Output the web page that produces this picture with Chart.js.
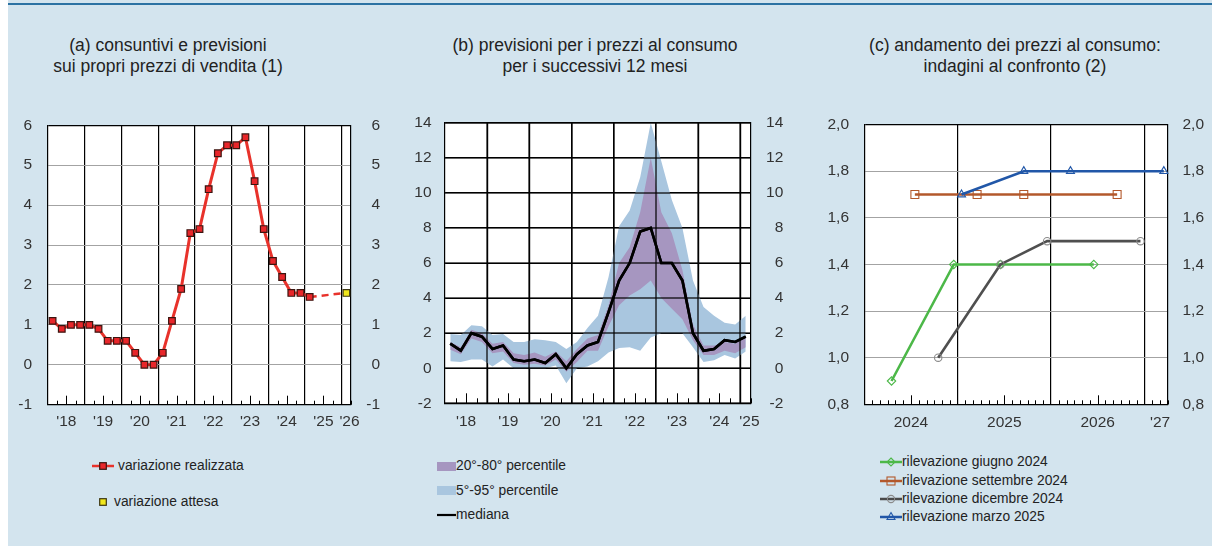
<!DOCTYPE html>
<html>
<head>
<meta charset="utf-8">
<script src="https://cdn.jsdelivr.net/npm/chart.js@4.4.1/dist/chart.umd.min.js"></script>
<style>
  html, body { margin: 0; padding: 0; }
  body { width: 1212px; height: 546px; background: #fff; overflow: hidden; position: relative;
         font-family: "Liberation Sans", Arial, Helvetica, sans-serif; color: #222; }
  #bg { position: absolute; left: 8px; top: 0; width: 1204px; height: 546px; background: #d3e4ee; }
  #topline { position: absolute; left: 8px; top: 3px; width: 1204px; height: 2px; background: #2b72a3; }
  .title { position: absolute; top: 35px; width: 400px; text-align: center; font-size: 17.5px; line-height: 21px; color: #222; }
  .cw { position: absolute; top: 100px; width: 404px; height: 330px; }
  .cw canvas { display: block; }
  .leg { position: absolute; font-size: 13.8px; line-height: 18px; height: 18px; white-space: nowrap; color: #222; }
  .ico { position: absolute; }
</style>
</head>
<body>
<div id="bg"></div>
<div id="topline"></div>

<div class="title" style="left:-32px;">(a) consuntivi e previsioni<br>sui propri prezzi di vendita (1)</div>
<div class="title" style="left:395px;">(b) previsioni per i prezzi al consumo<br>per i successivi 12 mesi</div>
<div class="title" style="left:815px;">(c) andamento dei prezzi al consumo:<br>indagini al confronto (2)</div>

<div class="cw" style="left:0px;"><canvas id="ca" width="404" height="330"></canvas></div>
<div class="cw" style="left:404px;"><canvas id="cb" width="404" height="330"></canvas></div>
<div class="cw" style="left:808px;"><canvas id="cc" width="404" height="330"></canvas></div>

<!-- legend (a) -->
<svg class="ico" style="left:92px;top:459px;" width="22" height="14">
  <line x1="0" y1="7" x2="22" y2="7" stroke="#e8322b" stroke-width="2.5"/>
  <rect x="7.7" y="3.7" width="6.6" height="6.6" fill="#e8262a" stroke="#3b1510" stroke-width="1.2"/>
</svg>
<div class="leg" style="left:118px;top:457px;">variazione realizzata</div>
<svg class="ico" style="left:96px;top:495px;" width="14" height="14">
  <rect x="3.7" y="3.7" width="6.6" height="6.6" fill="#f0e61c" stroke="#3b3410" stroke-width="1.2"/>
</svg>
<div class="leg" style="left:114px;top:493px;">variazione attesa</div>

<!-- legend (b) -->
<svg class="ico" style="left:437px;top:462px;" width="19" height="9"><rect x="0" y="0" width="19" height="9" fill="#a696c0"/></svg>
<div class="leg" style="left:456px;top:457px;">20°-80° percentile</div>
<svg class="ico" style="left:437px;top:486px;" width="19" height="9"><rect x="0" y="0" width="19" height="9" fill="#a9c6df"/></svg>
<div class="leg" style="left:456px;top:482px;">5°-95° percentile</div>
<svg class="ico" style="left:437px;top:508px;" width="19" height="14"><line x1="0" y1="7" x2="19" y2="7" stroke="#000" stroke-width="2.2"/></svg>
<div class="leg" style="left:456px;top:506px;">mediana</div>

<!-- legend (c) -->
<svg class="ico" style="left:880px;top:455px;" width="22" height="14">
  <line x1="0" y1="7" x2="22" y2="7" stroke="#4cb848" stroke-width="2.5"/>
  <polygon points="11,3 15,7 11,11 7,7" fill="none" stroke="#4cb848" stroke-width="1.1"/>
</svg>
<div class="leg" style="left:902px;top:453px;">rilevazione giugno 2024</div>
<svg class="ico" style="left:880px;top:474px;" width="22" height="14">
  <line x1="0" y1="7" x2="22" y2="7" stroke="#b3582b" stroke-width="2.5"/>
  <rect x="7" y="3" width="8" height="8" fill="none" stroke="#b3582b" stroke-width="1.1"/>
</svg>
<div class="leg" style="left:902px;top:472px;">rilevazione settembre 2024</div>
<svg class="ico" style="left:880px;top:492px;" width="22" height="14">
  <line x1="0" y1="7" x2="22" y2="7" stroke="#4a4a4a" stroke-width="2.5"/>
  <circle cx="11" cy="7" r="3.6" fill="none" stroke="#8a8a8a" stroke-width="1.1"/>
</svg>
<div class="leg" style="left:902px;top:490px;">rilevazione dicembre 2024</div>
<svg class="ico" style="left:880px;top:510px;" width="22" height="14">
  <line x1="0" y1="7" x2="22" y2="7" stroke="#2157a8" stroke-width="2.5"/>
  <polygon points="11,2.5 15,9.5 7,9.5" fill="none" stroke="#2157a8" stroke-width="1.1"/>
</svg>
<div class="leg" style="left:902px;top:508px;">rilevazione marzo 2025</div>

<script>
// ================= DATA =================
// (a) firms' own selling prices: realized and expected change (quarterly)
const quartersA = ['2018T1','2018T2','2018T3','2018T4','2019T1','2019T2','2019T3','2019T4',
                   '2020T1','2020T2','2020T3','2020T4','2021T1','2021T2','2021T3','2021T4',
                   '2022T1','2022T2','2022T3','2022T4','2023T1','2023T2','2023T3','2023T4',
                   '2024T1','2024T2','2024T3','2024T4','2025T1'];
const realizedA = [1.1, 0.9, 1.0, 1.0, 1.0, 0.9, 0.6, 0.6,
                   0.6, 0.3, 0.0, 0.0, 0.3, 1.1, 1.9, 3.3,
                   3.4, 4.4, 5.3, 5.5, 5.5, 5.7, 4.6, 3.4,
                   2.6, 2.2, 1.8, 1.8, 1.7];
const expectedQuartersA = ['2025T1', '2026T1'];
const expectedValuesA = [1.7, 1.8];
const yearsA = [2018, 2019, 2020, 2021, 2022, 2023, 2024, 2025, 2026];
const yearLabelsA = ["'18", "'19", "'20", "'21", "'22", "'23", "'24", "'25", "'26"];

// (b) consumer price expectations for the next 12 months (quarterly)
const quartersB = ['2018T1','2018T2','2018T3','2018T4','2019T1','2019T2','2019T3','2019T4',
                   '2020T1','2020T2','2020T3','2020T4','2021T1','2021T2','2021T3','2021T4',
                   '2022T1','2022T2','2022T3','2022T4','2023T1','2023T2','2023T3','2023T4',
                   '2024T1','2024T2','2024T3','2024T4','2025T1'];
const p5B   = [0.4, 0.35, 0.5, 0.5, 0.1, 0.5, 0.0, 0.0, 0.0, 0.0, 0.15, -0.85, 0.0, 0.1, 0.4,
               0.9, 1.15, 1.2, 1.0, 1.75, 2.0, 2.0, 2.0, 1.2, 0.35, 0.45, 0.75, 0.55, 0.95];
const p20B  = [1.05, 0.8, 1.7, 1.5, 0.85, 0.95, 0.3, 0.2, 0.25, 0.15, 0.5, -0.2, 0.35, 1.0, 1.0,
               2.4, 3.6, 4.15, 4.5, 5.0, 4.0, 3.4, 2.8, 1.6, 0.75, 0.75, 1.0, 0.85, 1.2];
const medianB = [1.4, 1.0, 2.0, 1.8, 1.1, 1.3, 0.5, 0.4, 0.5, 0.3, 0.8, 0.0, 0.8, 1.3, 1.5,
               3.2, 5.0, 6.0, 7.8, 8.0, 6.0, 6.0, 5.0, 2.0, 1.0, 1.1, 1.6, 1.5, 1.8];
const p80B  = [1.5, 1.2, 2.2, 2.0, 1.4, 1.5, 0.85, 0.75, 0.9, 0.65, 0.95, 0.4, 1.1, 1.7, 1.9,
               3.6, 6.0, 6.9, 8.9, 12.0, 8.9, 7.7, 5.6, 2.5, 1.3, 1.3, 1.5, 1.4, 1.8];
const p95B  = [1.95, 1.9, 2.45, 2.4, 1.9, 1.95, 1.5, 1.5, 1.65, 1.6, 1.5, 1.1, 1.5, 2.3, 3.0,
               5.2, 8.1, 9.0, 10.9, 14.0, 11.8, 9.6, 8.0, 5.0, 3.5, 3.0, 2.6, 2.5, 3.0];
const yearsB = [2018, 2019, 2020, 2021, 2022, 2023, 2024, 2025];
const yearLabelsB = ["'18", "'19", "'20", "'21", "'22", "'23", "'24", "'25"];

// (c) consumer prices: surveys compared (monthly reference dates)
const monthsJun24 = ['2024-04', '2024-12', '2025-06', '2026-06'];
const valuesJun24 = [0.9, 1.4, 1.4, 1.4];
const monthsSep24 = ['2024-07', '2025-03', '2025-09', '2026-09'];
const valuesSep24 = [1.7, 1.7, 1.7, 1.7];
const monthsDec24 = ['2024-10', '2025-06', '2025-12', '2026-12'];
const valuesDec24 = [1.0, 1.4, 1.5, 1.5];
const monthsMar25 = ['2025-01', '2025-09', '2026-03', '2027-03'];
const valuesMar25 = [1.7, 1.8, 1.8, 1.8];
const seriesNamesC = ['rilevazione giugno 2024', 'rilevazione settembre 2024',
                      'rilevazione dicembre 2024', 'rilevazione marzo 2025'];
const yearsC = [2024, 2025, 2026, 2027];
const yearLabelsC = ['2024', '2025', '2026', "'27"];

// ================= HELPERS =================
const qx = s => { const y = +s.slice(0, 4), q = +s.slice(5); return y + (q - 0.5) / 4; };
const mx = s => { const y = +s.slice(0, 4), m = +s.slice(5); return y + (m - 0.5) / 12; };
const pts = (cats, vals, f) => cats.map((c, i) => ({ x: f(c), y: vals[i] }));

Chart.defaults.font.family = '"Liberation Sans", Arial, Helvetica, sans-serif';
Chart.defaults.color = '#333';
Chart.defaults.animation = false;

const areaBg = {
  id: 'areaBg',
  beforeDraw(chart) {
    const { ctx, chartArea: a } = chart;
    ctx.save(); ctx.fillStyle = '#fff'; ctx.fillRect(a.left, a.top, a.width, a.height); ctx.restore();
  }
};
const innerTicks = {
  id: 'innerTicks',
  afterDraw(chart, args, o) {
    if (!o || !o.perYear) return;
    const s = chart.scales.x, a = chart.chartArea, ctx = chart.ctx;
    ctx.save(); ctx.strokeStyle = '#000'; ctx.lineWidth = 1;
    const n0 = Math.ceil(s.min * o.perYear), n1 = Math.floor(s.max * o.perYear);
    for (let n = n0; n <= n1; n++) {
      const r = n % o.perYear;
      if (r === 0) continue;
      const len = (2 * r === o.perYear) ? o.long : o.short;
      const x = Math.round(s.getPixelForValue(n / o.perYear)) + 0.5;
      ctx.beginPath(); ctx.moveTo(x, a.bottom); ctx.lineTo(x, a.bottom - len); ctx.stroke();
    }
    ctx.restore();
  }
};
Chart.register(areaBg, innerTicks);

function xAxis(c) {
  const bounds = [];
  for (let y = Math.ceil(c.min); y < c.max; y++) if (y > c.min) bounds.push(y);
  const labelPos = c.years.map(y => Math.min(y + 0.5, c.max - (c.max - c.min) * c.inset));
  const lab = new Map(labelPos.map((p, i) => [p, c.labels[i]]));
  return {
    type: 'linear', position: 'bottom', min: c.min, max: c.max,
    afterBuildTicks: s => { s.ticks = [...bounds, ...labelPos].sort((a, b) => a - b).map(v => ({ value: v })); },
    afterFit: s => { s.height = c.height; },
    ticks: { autoSkip: false, maxRotation: 0, minRotation: 0, padding: c.pad, color: '#333',
             font: { size: 15.5 }, callback: v => lab.has(v) ? lab.get(v) : '' },
    grid: { drawTicks: false, lineWidth: 1.2,
            color: ctx => (ctx.tick && bounds.includes(ctx.tick.value)) ? '#000' : 'rgba(0,0,0,0)' },
    border: { color: '#000', width: 1.2 }
  };
}
function yAxis(c, side) {
  const isTop = v => Math.abs(v - c.max) < 1e-9;
  return {
    type: 'linear', position: side, min: c.min, max: c.max,
    afterFit: s => { s.width = side === 'left' ? c.leftW : c.rightW; },
    ticks: { stepSize: c.step, autoSkip: false, padding: c.pad, color: '#333', font: { size: 15.5 },
             crossAlign: side === 'left' ? 'near' : 'far', callback: c.fmt },
    grid: { drawTicks: false, drawOnChartArea: side === 'left',
            color: ctx => (ctx.tick && isTop(ctx.tick.value)) ? '#000' : c.gridColor,
            lineWidth: ctx => (ctx.tick && isTop(ctx.tick.value)) ? 1.2 : 1 },
    border: { color: '#000', width: 1.2 }
  };
}
const basePlugins = { legend: { display: false }, tooltip: { enabled: false } };

// ================= CHART (a) =================
const yA = { min: -1, max: 6, step: 1, pad: 16, leftW: 48, rightW: 29, gridColor: '#a3a3a3', fmt: v => String(v) };
new Chart(document.getElementById('ca'), {
  type: 'line',
  data: {
    datasets: [
      { label: 'variazione realizzata', data: pts(quartersA, realizedA, qx),
        borderColor: '#e8322b', borderWidth: 3, tension: 0, clip: false,
        pointStyle: 'rect', pointRadius: 4.7, pointBackgroundColor: '#e8262a',
        pointBorderColor: '#3b1510', pointBorderWidth: 1.2 },
      { label: 'variazione attesa', data: pts(expectedQuartersA, expectedValuesA, qx),
        borderColor: '#e8322b', borderWidth: 2.5, borderDash: [7, 5], tension: 0, clip: false,
        pointStyle: 'rect', pointRadius: [0, 4.7], pointBackgroundColor: '#f0e61c',
        pointBorderColor: '#3b3410', pointBorderWidth: 1.2 }
    ]
  },
  options: {
    responsive: false, maintainAspectRatio: false,
    layout: { padding: { top: 14, right: 24, left: 0, bottom: 0 } },
    scales: {
      x: xAxis({ min: 2018, max: 2026.25, years: yearsA, labels: yearLabelsA, inset: 0.005, pad: 8, height: 25 }),
      y: yAxis(yA, 'left'),
      y2: yAxis(yA, 'right')
    },
    plugins: { ...basePlugins, innerTicks: { perYear: 4, short: 4, long: 9 } }
  }
});

// ================= CHART (b) =================
const yB = { min: -2, max: 14, step: 2, pad: 13.5, leftW: 41, rightW: 32.3, gridColor: '#000', fmt: v => String(v) };
// grid of panel (b) painted over the shaded bands (black lines on the reference)
const gridOverB = {
  id: 'gridOverB',
  afterDatasetsDraw(chart) {
    const ctx = chart.ctx, a = chart.chartArea, xs = chart.scales.x, ys = chart.scales.y;
    ctx.save();
    ctx.fillStyle = '#000';
    const span = yB.max - yB.min;
    for (let k = 0; k * yB.step <= span + 1e-9; k++) {
      const v = yB.min + k * yB.step;
      let p = ys ? ys.getPixelForValue(v) : NaN;
      if (!isFinite(p) || p < a.top - 1 || p > a.bottom + 1) p = a.bottom - (v - yB.min) / span * (a.bottom - a.top);
      ctx.fillRect(a.left, Math.round(p) - 0.6, a.right - a.left, 1.2);
    }
    for (let yr = Math.ceil(xs.min); yr < xs.max; yr++) {
      if (yr <= xs.min) continue;
      const x = xs.getPixelForValue(yr);
      ctx.fillRect(Math.round(x) - 0.6, a.top, 1.2, a.bottom - a.top);
    }
    ctx.restore();
  }
};
const medianOnTop = {
  id: 'medianOnTop',
  afterDatasetsDraw(chart) {
    // redraw the median line above the grid
    const meta = chart.getDatasetMeta(0);
    if (meta && meta.dataset) meta.dataset.draw(chart.ctx, chart.chartArea);
  }
};
new Chart(document.getElementById('cb'), {
  type: 'line',
  data: {
    datasets: [
      { label: 'mediana', data: pts(quartersB, medianB, qx), borderColor: '#000', borderWidth: 2.6,
        pointRadius: 0, tension: 0, fill: false },
      { label: '20°-80° percentile', data: pts(quartersB, p80B, qx), borderWidth: 0, borderColor: 'rgba(0,0,0,0)',
        backgroundColor: '#a696c0', pointRadius: 0, tension: 0, fill: 2 },
      { label: '20° percentile', data: pts(quartersB, p20B, qx), borderWidth: 0, borderColor: 'rgba(0,0,0,0)',
        backgroundColor: 'rgba(0,0,0,0)', pointRadius: 0, tension: 0, fill: false },
      { label: '5°-95° percentile', data: pts(quartersB, p95B, qx), borderWidth: 0, borderColor: 'rgba(0,0,0,0)',
        backgroundColor: '#a9c6df', pointRadius: 0, tension: 0, fill: 4 },
      { label: '5° percentile', data: pts(quartersB, p5B, qx), borderWidth: 0, borderColor: 'rgba(0,0,0,0)',
        backgroundColor: 'rgba(0,0,0,0)', pointRadius: 0, tension: 0, fill: false }
    ]
  },
  options: {
    responsive: false, maintainAspectRatio: false,
    layout: { padding: { top: 12.7, right: 24.7, left: 0, bottom: 0 } },
    scales: {
      x: xAxis({ min: 2018, max: 2025.25, years: yearsB, labels: yearLabelsB, inset: 0.005, pad: 9.5, height: 26.7 }),
      y: yAxis(yB, 'left'),
      y2: yAxis(yB, 'right')
    },
    plugins: { ...basePlugins, innerTicks: { perYear: 4, short: 5, long: 10 } }
  },
  plugins: [gridOverB, medianOnTop]
});

// ================= CHART (c) =================
const yC = { min: 0.8, max: 2.0, step: 0.2, pad: 15.3, leftW: 56.3, rightW: 36.3, gridColor: '#a3a3a3',
             fmt: v => Number(v).toFixed(1).replace('.', ',') };
const lineC = (label, cats, vals, color, style, r, pcolor) => ({
  label, data: pts(cats, vals, mx), borderColor: color, borderWidth: 2.6, tension: 0, clip: false,
  pointStyle: style, pointRadius: r, pointBackgroundColor: 'rgba(0,0,0,0)',
  pointBorderColor: pcolor || color, pointBorderWidth: 1.1
});
new Chart(document.getElementById('cc'), {
  type: 'line',
  data: {
    datasets: [
      lineC(seriesNamesC[3], monthsMar25, valuesMar25, '#2157a8', 'triangle', 4.6),
      lineC(seriesNamesC[2], monthsDec24, valuesDec24, '#4f4f4f', 'circle', 3.7, '#8a8a8a'),
      lineC(seriesNamesC[1], monthsSep24, valuesSep24, '#b3582b', 'rect', 5.6),
      lineC(seriesNamesC[0], monthsJun24, valuesJun24, '#4cb848', 'rectRot', 4.2)
    ]
  },
  options: {
    responsive: false, maintainAspectRatio: false,
    layout: { padding: { top: 14, right: 8, left: 0, bottom: 0 } },
    scales: {
      x: xAxis({ min: 2024, max: 2027.25, years: yearsC, labels: yearLabelsC, inset: 0.025, pad: 9, height: 25.7 }),
      y: yAxis(yC, 'left'),
      y2: yAxis(yC, 'right')
    },
    plugins: { ...basePlugins, innerTicks: { perYear: 12, short: 4, long: 9 } }
  }
});
</script>
</body>
</html>
